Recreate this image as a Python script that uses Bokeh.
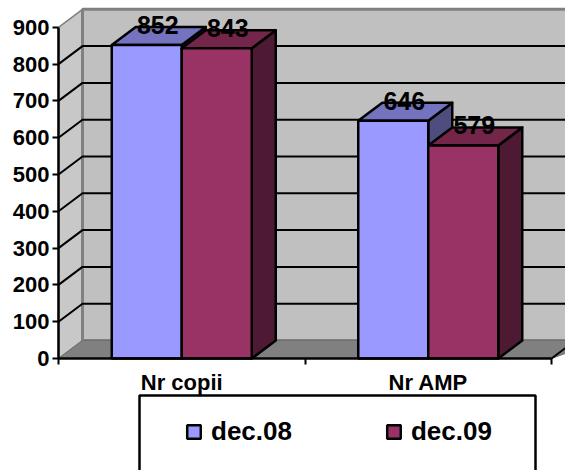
from bokeh.plotting import figure
from bokeh.embed import file_html
from bokeh.resources import INLINE
from bokeh.models import LinearAxis, FixedTicker, Legend, LegendItem, BoxAnnotation
from bokeh.core.properties import value

categories = ["Nr copii", "Nr AMP"]
series_names = ["dec.08", "dec.09"]
dec08 = [852, 646]
dec09 = [843, 579]
y_ticks = [0, 100, 200, 300, 400, 500, 600, 700, 800, 900]
FONT = "Liberation Sans"

# layout in pixels
W, H = 565, 470
X0, Y0 = 58, 358          # origin of the axes inside the figure
PX_X, PX_Y = 246.5, 0.368  # pixels per category, per value unit
DX, DY = 24 / PX_X, 18 / PX_Y  # 3-D depth in data units
BAR_W = 70 / PX_X

p = figure(width=W, height=H, output_backend="svg", toolbar_location=None,
           x_range=(-X0 / PX_X, (W - X0) / PX_X),
           y_range=(-(H - Y0) / PX_Y, Y0 / PX_Y),
           min_border=0, min_border_left=0, min_border_right=0,
           min_border_top=0, min_border_bottom=0,
           x_axis_type=None, y_axis_type=None)
p.outline_line_color = None
p.grid.visible = False
p.background_fill_color = "white"

TOP = y_ticks[-1]
XR = 2.2
# walls
p.patch([0, DX, DX, 0], [0, DY, TOP + DY, TOP], fill_color="#C8C8C8",
        line_color="#808080", line_width=1.5)
p.quad(left=DX, right=XR, bottom=DY, top=TOP + DY, fill_color="#C0C0C0",
       line_color="#808080", line_width=3)
# gridlines
for t in y_ticks[1:-1]:
    p.line([0, DX, XR], [t, t + DY, t + DY], line_color="black", line_width=2)
# floor
p.patch([0, DX, XR, 2], [0, DY, DY, 0], fill_color="#808080", line_color="#707070", line_width=1)
p.line([2, 2 + DX], [0, DY], line_color="black", line_width=2)

colors = [("#9999FF", "#7373BF", "#4D4D80"), ("#993366", "#732649", "#4D1933")]
fronts = [[], []]
for g, cat in enumerate(categories):
    centre = g + 0.5
    for s, vals in enumerate([dec08, dec09]):
        v = vals[g]
        l = centre + (s - 1) * BAR_W
        r = l + BAR_W
        front, top, side = colors[s]
        p.patch([r, r + DX, r + DX, r], [0, DY, v + DY, v], fill_color=side,
                line_color="black", line_width=2.5, line_join="round")
        p.patch([l, l + DX, r + DX, r], [v, v + DY, v + DY, v], fill_color=top,
                line_color="black", line_width=2.5, line_join="round")
        q = p.quad(left=l, right=r, bottom=0, top=v, fill_color=front,
                   line_color="black", line_width=2.5)
        fronts[s].append(q)

for g, cat in enumerate(categories):
    centre = g + 0.5
    for s, vals in enumerate([dec08, dec09]):
        v = vals[g]
        xc = centre + (s - 0.5) * BAR_W + DX / 2
        p.text([xc], [v + DY], text=[str(v)], text_font=value(FONT), text_font_style="bold",
               text_font_size="25px", text_align="center", text_baseline="middle",
               text_color="black", x_offset=-1, y_offset=-2)

# axes
ya = LinearAxis(ticker=FixedTicker(ticks=y_ticks), fixed_location=0, bounds=(0, TOP),
                major_tick_in=0, major_tick_out=6, minor_tick_line_color=None,
                major_tick_line_width=2, axis_line_width=2.5,
                major_label_text_color="black",
                major_label_text_font=FONT, major_label_text_font_style="bold",
                major_label_text_font_size="22px", major_label_standoff=3)
p.add_layout(ya, "left")
xa = LinearAxis(ticker=FixedTicker(ticks=[0, 1, 2]), fixed_location=0, bounds=(0, 2),
                major_tick_in=0, major_tick_out=6, minor_tick_line_color=None,
                major_tick_line_width=2, axis_line_width=2.5,
                major_label_overrides={0: "", 1: "", 2: ""})
p.add_layout(xa, "below")
xl = LinearAxis(ticker=FixedTicker(ticks=[0.5, 1.5]), fixed_location=0,
                major_tick_line_color=None, minor_tick_line_color=None, axis_line_color=None,
                major_label_overrides={0.5: categories[0], 1.5: categories[1]},
                major_label_text_color="black",
                major_label_text_font=FONT, major_label_text_font_style="bold",
                major_label_text_font_size="22px", major_label_standoff=5)
p.add_layout(xl, "below")

# legend box (open at the bottom edge of the picture)
box = BoxAnnotation(left=139, right=535, top=H - 395, bottom=-10,
                    left_units="screen", right_units="screen", top_units="screen", bottom_units="screen",
                    fill_alpha=0, line_color="black", line_alpha=1, line_width=2.5)
p.add_layout(box)

legend = Legend(items=[LegendItem(label=series_names[0], renderers=[fronts[0][0]]),
                       LegendItem(label=series_names[1], renderers=[fronts[1][0]])],
                orientation="horizontal", location=(185, 23), padding=0, margin=0,
                spacing=93, glyph_width=17, glyph_height=17, label_standoff=9,
                label_text_color="black",
                label_text_font=FONT, label_text_font_style="bold", label_text_font_size="26px",
                background_fill_alpha=0, border_line_alpha=0)
p.add_layout(legend)

open("out.html", "w").write(file_html(p, INLINE))
